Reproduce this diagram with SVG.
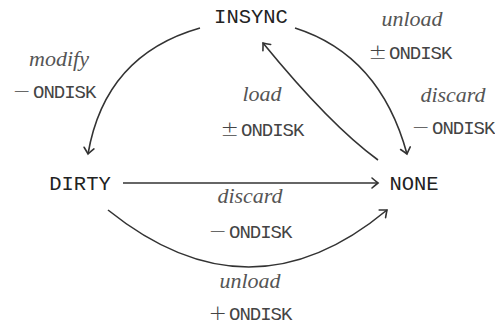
<svg xmlns="http://www.w3.org/2000/svg" width="495" height="326" viewBox="0 0 495 326">
<defs>
<marker id="arr" markerUnits="userSpaceOnUse" markerWidth="20" markerHeight="20" viewBox="-10 -10 20 20" refX="0" refY="0" orient="auto">
<path d="M -6 -5 Q -2 -1.5 0 0 Q -2 1.5 -6 5" fill="none" stroke="#333" stroke-width="1.6" stroke-linecap="round"/>
</marker>
</defs>
<style>
.node{font-family:"Liberation Mono",monospace;font-size:20.5px;fill:#222;text-anchor:middle}
.lab{font-family:"Liberation Serif",serif;font-style:italic;font-size:22px;fill:#555;text-anchor:middle}
.tag{font-family:"Liberation Mono",monospace;font-size:19px;letter-spacing:-1px;fill:#444;text-anchor:middle}
.sym{font-family:"DejaVu Sans",sans-serif;font-size:22px;font-weight:300;letter-spacing:2px}
.edge{fill:none;stroke:#333;stroke-width:1.6;marker-end:url(#arr)}
</style>
<rect width="495" height="326" fill="#fff"/>
<g id="connectors">
<path class="edge" d="M 200 28 Q 105 55 88 154"/>
<path class="edge" d="M 295 28 Q 380 55 407 154"/>
<path class="edge" d="M 378 160 Q 330 125 263 43"/>
<path class="edge" d="M 123 183 L 378 183"/>
<path class="edge" d="M 108 210 Q 250 324 387 210"/>
</g>
<g id="INSYNC"><text class="node" x="251" y="23">INSYNC</text></g>
<g id="DIRTY"><text class="node" x="80" y="190">DIRTY</text></g>
<g id="NONE"><text class="node" x="414" y="190">NONE</text></g>
<g id="labels">
<text class="lab" x="59" y="66">modify</text>
<text class="tag" x="54" y="98"><tspan class="sym">−</tspan>ONDISK</text>
<text class="lab" x="262" y="101">load</text>
<text class="tag" x="262" y="136"><tspan class="sym">±</tspan>ONDISK</text>
<text class="lab" x="412" y="26">unload</text>
<text class="tag" x="410" y="59"><tspan class="sym">±</tspan>ONDISK</text>
<text class="lab" x="453" y="102">discard</text>
<text class="tag" x="453" y="134"><tspan class="sym">−</tspan>ONDISK</text>
<text class="lab" x="250" y="203">discard</text>
<text class="tag" x="250" y="238"><tspan class="sym">−</tspan>ONDISK</text>
<text class="lab" x="250" y="288">unload</text>
<text class="tag" x="250" y="320"><tspan class="sym">+</tspan>ONDISK</text>
</g>
</svg>
